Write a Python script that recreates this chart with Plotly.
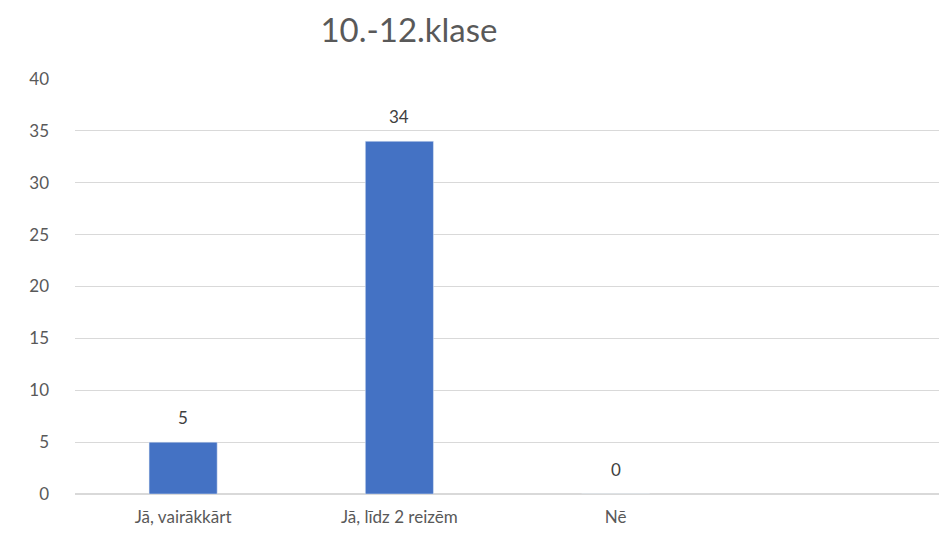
import plotly.graph_objects as go

categories = ["Jā, vairākkārt", "Jā, līdz 2 reizēm", "Nē", " "]
values = [5, 34, 0, None]
labels = ["5", "34", "0", ""]
y_ticks = [0, 5, 10, 15, 20, 25, 30, 35, 40]

fig = go.Figure(go.Bar(
    x=categories, y=values,
    marker=dict(color="#4472C4"),
))
for c, v, t in zip(categories, values, labels):
    if v is not None and t:
        fig.add_annotation(x=c, y=v, text=t, showarrow=False, yshift=25,
                           font=dict(family="Lato", size=17, color="#404040"))
fig.update_layout(
    width=947, height=538,
    margin=dict(l=67, r=15, t=71, b=52),
    paper_bgcolor="white", plot_bgcolor="white",
    bargap=0.685,
    showlegend=False,
    title=dict(text="10.-12.klase", x=0.4234, xanchor="center", y=0.959, yref="container",
               yanchor="middle",
               font=dict(family="Lato", size=33, color="#595959")),
    font=dict(family="Lato", size=17, color="#595959"),
)
fig.update_yaxes(range=[0, 40], tickvals=y_ticks, showgrid=True, gridcolor="#d9d9d9",
                 gridwidth=1, zeroline=True, zerolinecolor="#d9d9d9", showline=False,
                 ticks="", ticklabelstandoff=25, automargin=False)
fig.update_xaxes(showline=False, ticks="", ticklabelstandoff=11, automargin=False)
fig.write_html("out.html")
